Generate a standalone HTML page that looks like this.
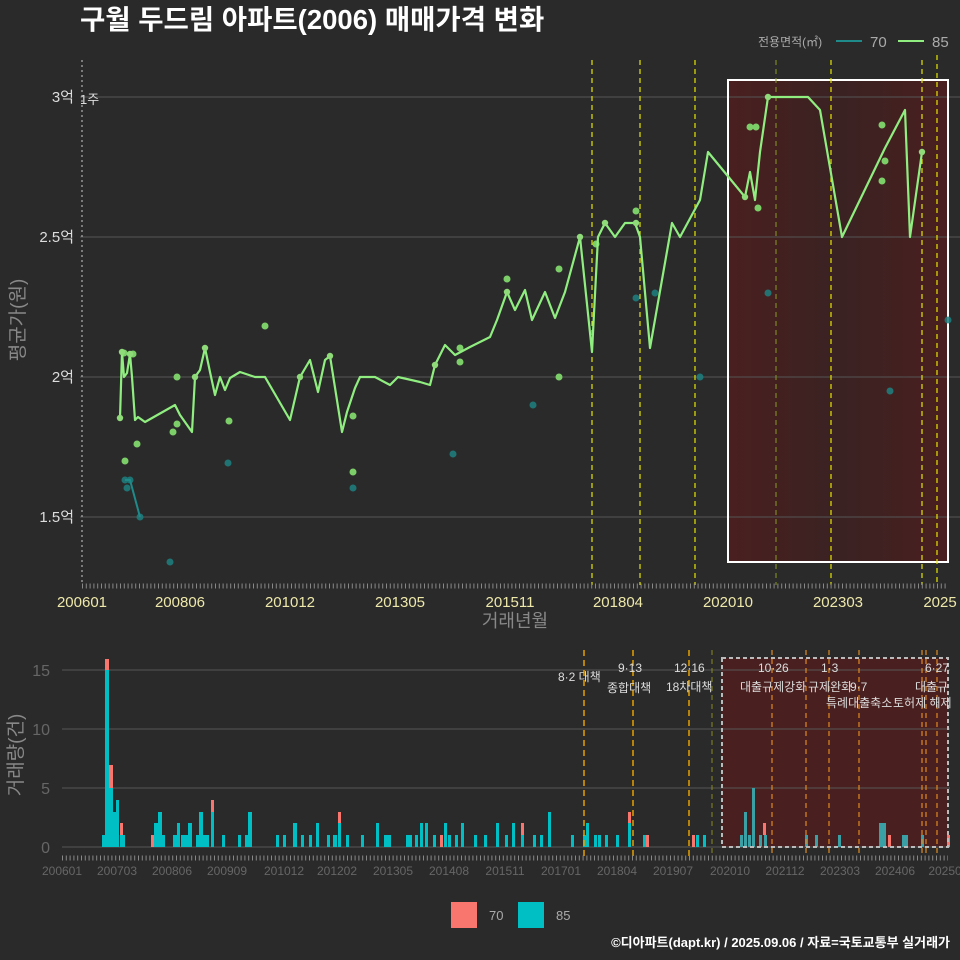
<!DOCTYPE html><html><head><meta charset="utf-8"><style>body{margin:0;background:#2a2a2a}svg{display:block;font-family:"Liberation Sans","Noto Sans CJK KR",sans-serif}</style></head><body>
<svg width="960" height="960" viewBox="0 0 960 960">
<rect width="960" height="960" fill="#2a2a2a"/>
<defs><linearGradient id="g" x1="0" x2="1"><stop offset="0" stop-color="#4a1f1f"/><stop offset="0.5" stop-color="#3a2222"/><stop offset="1" stop-color="#4a1f1f"/></linearGradient></defs>
<text x="80" y="29" fill="#fff" font-size="27.5" font-weight="bold">구월 두드림 아파트(2006) 매매가격 변화</text>
<text x="758" y="46" fill="#aaa" font-size="12">전용면적(㎡)</text>
<line x1="836" y1="41" x2="862" y2="41" stroke="#1e8a8a" stroke-width="2"/><text x="870" y="47" fill="#aaa" font-size="15">70</text>
<line x1="898" y1="41" x2="924" y2="41" stroke="#90ee80" stroke-width="2"/><text x="932" y="47" fill="#aaa" font-size="15">85</text>
<rect x="728" y="80" width="220" height="482" fill="url(#g)"/>
<g stroke="#555" stroke-width="1"><line x1="80" y1="97" x2="960" y2="97"/><line x1="80" y1="237" x2="960" y2="237"/><line x1="80" y1="377" x2="960" y2="377"/><line x1="80" y1="517" x2="960" y2="517"/></g>
<rect x="728" y="80" width="220" height="482" fill="none" stroke="#fff" stroke-width="2"/>
<line x1="82" y1="60" x2="82" y2="585" stroke="#ccc" stroke-dasharray="2,3"/>
<g stroke="#e6e600" stroke-dasharray="5,4" stroke-width="1.2"><line x1="592" y1="60" x2="592" y2="585"/><line x1="640" y1="60" x2="640" y2="585"/><line x1="695" y1="60" x2="695" y2="585"/><line x1="831" y1="60" x2="831" y2="585"/><line x1="922" y1="60" x2="922" y2="585"/><line x1="937" y1="55" x2="937" y2="585"/></g>
<line x1="776" y1="60" x2="776" y2="585" stroke="#8a9a20" stroke-dasharray="5,4"/>
<g fill="#ddd" font-size="15" text-anchor="end"><text x="74" y="102">3억</text><text x="74" y="242">2.5억</text><text x="74" y="382">2억</text><text x="74" y="522">1.5억</text></g>
<text x="80" y="104" fill="#ddd" font-size="13">1주</text>
<text transform="translate(24,320) rotate(-90)" fill="#888" font-size="19" text-anchor="middle">평균가(원)</text>
<g fill="#1e8080" opacity="0.85"><circle cx="125" cy="480" r="3.5"/><circle cx="127" cy="488" r="3.5"/><circle cx="130" cy="480" r="3.5"/><circle cx="140" cy="517" r="3.5"/><circle cx="170" cy="562" r="3.5"/><circle cx="228" cy="463" r="3.5"/><circle cx="353" cy="488" r="3.5"/><circle cx="453" cy="454" r="3.5"/><circle cx="533" cy="405" r="3.5"/><circle cx="636" cy="298" r="3.5"/><circle cx="655" cy="293" r="3.5"/><circle cx="700" cy="377" r="3.5"/><circle cx="768" cy="293" r="3.5"/><circle cx="890" cy="391" r="3.5"/><circle cx="948" cy="320" r="3.5"/></g>
<polyline fill="none" stroke="#1e8a8a" stroke-width="2" points="125,480 130,480 140,517"/>
<g fill="#7ccf68"><circle cx="124" cy="353" r="3.5"/><circle cx="133" cy="354" r="3.5"/><circle cx="125" cy="461" r="3.5"/><circle cx="137" cy="444" r="3.5"/><circle cx="173" cy="432" r="3.5"/><circle cx="177" cy="424" r="3.5"/><circle cx="177" cy="377" r="3.5"/><circle cx="265" cy="326" r="3.5"/><circle cx="229" cy="421" r="3.5"/><circle cx="353" cy="472" r="3.5"/><circle cx="353" cy="416" r="3.5"/><circle cx="507" cy="279" r="3.5"/><circle cx="559" cy="269" r="3.5"/><circle cx="559" cy="377" r="3.5"/><circle cx="596" cy="244" r="3.5"/><circle cx="636" cy="211" r="3.5"/><circle cx="750" cy="127" r="3.5"/><circle cx="756" cy="127" r="3.5"/><circle cx="758" cy="208" r="3.5"/><circle cx="882" cy="125" r="3.5"/><circle cx="882" cy="181" r="3.5"/><circle cx="885" cy="161" r="3.5"/><circle cx="460" cy="362" r="3.5"/><circle cx="460" cy="348" r="3.5"/></g>
<polyline fill="none" stroke="#90ee80" stroke-width="2.2" stroke-linejoin="round" points="120,418 122,352 124,377 127,373 130,354 132,377 135,420 138,417 145,422 175,405 180,415 192,432 195,377 200,370 205,348 210,372 215,395 220,377 225,390 230,378 240,372 255,377 265,377 290,420 300,377 310,360 318,392 325,360 330,356 342,432 347,412 355,388 360,377 375,377 390,385 398,377 420,382 430,385 435,365 445,345 455,355 470,347 490,337 497,320 507,292 515,310 525,290 532,320 545,292 555,318 565,292 580,237 592,352 598,237 605,223 615,237 625,223 635,223 640,237 650,348 672,223 680,237 700,200 708,152 745,197 750,172 755,200 760,152 768,97 808,97 820,110 842,237 885,148 905,110 910,237 922,152"/>
<g fill="#8fdb7a"><circle cx="120" cy="418" r="3.2"/><circle cx="122" cy="352" r="3.2"/><circle cx="130" cy="354" r="3.2"/><circle cx="195" cy="377" r="3.2"/><circle cx="205" cy="348" r="3.2"/><circle cx="300" cy="377" r="3.2"/><circle cx="330" cy="356" r="3.2"/><circle cx="435" cy="365" r="3.2"/><circle cx="507" cy="292" r="3.2"/><circle cx="580" cy="237" r="3.2"/><circle cx="605" cy="223" r="3.2"/><circle cx="636" cy="223" r="3.2"/><circle cx="745" cy="197" r="3.2"/><circle cx="768" cy="97" r="3.2"/><circle cx="922" cy="152" r="3.2"/></g>
<line x1="82" y1="586" x2="948" y2="586" stroke="#888" stroke-dasharray="1,2.8" stroke-width="5"/>
<g fill="#eee8aa" font-size="15" text-anchor="middle"><text x="82" y="607">200601</text><text x="180" y="607">200806</text><text x="290" y="607">201012</text><text x="400" y="607">201305</text><text x="510" y="607">201511</text><text x="618" y="607">201804</text><text x="728" y="607">202010</text><text x="838" y="607">202303</text><text x="940" y="607">2025</text></g>
<text x="515" y="627" fill="#888" font-size="18" text-anchor="middle">거래년월</text>
<rect x="722" y="658" width="226" height="189" fill="#4a1f1f"/>
<g stroke="#555"><line x1="62" y1="670" x2="950" y2="670"/><line x1="62" y1="729" x2="950" y2="729"/><line x1="62" y1="788" x2="950" y2="788"/><line x1="62" y1="847" x2="950" y2="847"/></g>
<g fill="#666" font-size="16" text-anchor="end"><text x="50" y="676">15</text><text x="50" y="735">10</text><text x="50" y="794">5</text><text x="50" y="853">0</text></g>
<text transform="translate(22,755) rotate(-90)" fill="#888" font-size="19" text-anchor="middle">거래량(건)</text>
<g fill="#00bfc4">
<rect x="102" y="835" width="3" height="12"/><rect x="105" y="670" width="4" height="177"/><rect x="109" y="788" width="4" height="59"/><rect x="113" y="812" width="3" height="35"/><rect x="116" y="800" width="3" height="47"/><rect x="120" y="835" width="5" height="12"/>
<rect x="154" y="823" width="4" height="24"/><rect x="158" y="812" width="4" height="35"/><rect x="162" y="835" width="3" height="12"/><rect x="173" y="835" width="4" height="12"/><rect x="177" y="823" width="3" height="24"/><rect x="181" y="835" width="9" height="12"/><rect x="188" y="823" width="4" height="24"/><rect x="196" y="835" width="4" height="12"/><rect x="199" y="812" width="4" height="35"/><rect x="203" y="835" width="6" height="12"/><rect x="211" y="812" width="3" height="35"/><rect x="222" y="835" width="3" height="12"/><rect x="238" y="835" width="3" height="12"/><rect x="245" y="835" width="3" height="12"/><rect x="248" y="812" width="4" height="35"/>
<rect x="276" y="835" width="3" height="12"/><rect x="283" y="835" width="3" height="12"/><rect x="293" y="823" width="4" height="24"/><rect x="301" y="835" width="3" height="12"/><rect x="309" y="835" width="3" height="12"/><rect x="316" y="823" width="3" height="24"/><rect x="327" y="835" width="3" height="12"/><rect x="333" y="835" width="4" height="12"/><rect x="338" y="823" width="3" height="24"/><rect x="346" y="835" width="3" height="12"/><rect x="361" y="835" width="3" height="12"/><rect x="376" y="823" width="3" height="24"/><rect x="384" y="835" width="7" height="12"/><rect x="406" y="835" width="6" height="12"/><rect x="415" y="835" width="3" height="12"/><rect x="420" y="823" width="3" height="24"/><rect x="425" y="823" width="3" height="24"/><rect x="433" y="835" width="3" height="12"/><rect x="444" y="823" width="3" height="24"/><rect x="448" y="835" width="3" height="12"/><rect x="455" y="835" width="3" height="12"/><rect x="461" y="823" width="3" height="24"/><rect x="474" y="835" width="3" height="12"/><rect x="484" y="835" width="3" height="12"/><rect x="496" y="823" width="3" height="24"/><rect x="505" y="835" width="3" height="12"/><rect x="512" y="823" width="3" height="24"/><rect x="521" y="835" width="3" height="12"/><rect x="533" y="835" width="3" height="12"/><rect x="540" y="835" width="3" height="12"/><rect x="548" y="812" width="3" height="35"/><rect x="571" y="835" width="3" height="12"/><rect x="583" y="835" width="3" height="12"/><rect x="586" y="823" width="3" height="24"/><rect x="594" y="835" width="3" height="12"/><rect x="598" y="835" width="3" height="12"/><rect x="605" y="835" width="3" height="12"/><rect x="616" y="835" width="3" height="12"/><rect x="628" y="823" width="3" height="24"/><rect x="643" y="835" width="3" height="12"/><rect x="696" y="835" width="3" height="12"/><rect x="703" y="835" width="3" height="12"/>
</g>
<g fill="#3aa0a5"><rect x="740" y="835" width="3" height="12"/><rect x="744" y="812" width="3" height="35"/><rect x="748" y="835" width="3" height="12"/><rect x="752" y="788" width="3" height="59"/><rect x="759" y="835" width="3" height="12"/><rect x="764" y="835" width="3" height="12"/><rect x="805" y="835" width="3" height="12"/><rect x="815" y="835" width="3" height="12"/><rect x="838" y="835" width="3" height="12"/><rect x="879" y="823" width="7" height="24"/><rect x="902" y="835" width="6" height="12"/><rect x="921" y="835" width="3" height="12"/></g>
<g fill="#f8766d"><rect x="105" y="659" width="4" height="11"/><rect x="109" y="765" width="4" height="23"/><rect x="120" y="823" width="3" height="12"/><rect x="151" y="835" width="3" height="12"/><rect x="211" y="800" width="3" height="12"/><rect x="338" y="812" width="3" height="11"/><rect x="440" y="835" width="3" height="12"/><rect x="521" y="823" width="3" height="12"/><rect x="628" y="812" width="3" height="11"/><rect x="646" y="835" width="3" height="12"/><rect x="692" y="835" width="3" height="12"/><rect x="763" y="823" width="3" height="12"/><rect x="888" y="835" width="3" height="12"/><rect x="947" y="835" width="3" height="12"/></g>
<rect x="722" y="658" width="226" height="189" fill="none" stroke="#bbb" stroke-width="2" stroke-dasharray="4,3"/>
<g stroke="#e6a000" stroke-dasharray="6,4" stroke-width="1.5"><line x1="584" y1="650" x2="584" y2="857"/><line x1="633" y1="650" x2="633" y2="857"/><line x1="689" y1="650" x2="689" y2="857"/></g>
<g stroke="#e08a20" stroke-dasharray="5,4" stroke-width="1.2"><line x1="772" y1="650" x2="772" y2="857"/><line x1="806" y1="650" x2="806" y2="857"/><line x1="829" y1="650" x2="829" y2="857"/><line x1="859" y1="650" x2="859" y2="857"/><line x1="922" y1="650" x2="922" y2="857"/><line x1="926" y1="650" x2="926" y2="857"/><line x1="937" y1="650" x2="937" y2="857"/></g>
<line x1="712" y1="650" x2="712" y2="857" stroke="#8a8a20" stroke-dasharray="5,4"/>
<g fill="#ddd" font-size="12"><text x="558" y="681">8·2 대책</text><text x="618" y="672">9·13</text><text x="607" y="692">종합대책</text><text x="674" y="672">12·16</text><text x="666" y="691">18차대책</text><text x="758" y="672">10·26</text><text x="740" y="691">대출규제강화</text><text x="808" y="691">규제완화</text><text x="821" y="672">1·3</text><text x="850" y="691">9·7</text><text x="826" y="707">특례대출축소</text><text x="893" y="707">토허제 해제</text><text x="925" y="672">6·27</text><text x="915" y="691">대출규</text></g>
<line x1="62" y1="858" x2="948" y2="858" stroke="#888" stroke-dasharray="1,2.8" stroke-width="5"/>
<g fill="#666" font-size="12" text-anchor="middle"><text x="62" y="875">200601</text><text x="117" y="875">200703</text><text x="172" y="875">200806</text><text x="227" y="875">200909</text><text x="284" y="875">201012</text><text x="337" y="875">201202</text><text x="393" y="875">201305</text><text x="449" y="875">201408</text><text x="505" y="875">201511</text><text x="561" y="875">201701</text><text x="617" y="875">201804</text><text x="673" y="875">201907</text><text x="730" y="875">202010</text><text x="785" y="875">202112</text><text x="840" y="875">202303</text><text x="895" y="875">202406</text><text x="945" y="875">20250</text></g>
<rect x="451" y="902" width="26" height="26" fill="#f8766d"/><text x="489" y="920" fill="#aaa" font-size="13">70</text>
<rect x="518" y="902" width="26" height="26" fill="#00bfc4"/><text x="556" y="920" fill="#aaa" font-size="13">85</text>
<text x="950" y="947" fill="#fff" font-size="13" font-weight="bold" text-anchor="end">©디아파트(dapt.kr) / 2025.09.06 / 자료=국토교통부 실거래가</text>
</svg></body></html>
